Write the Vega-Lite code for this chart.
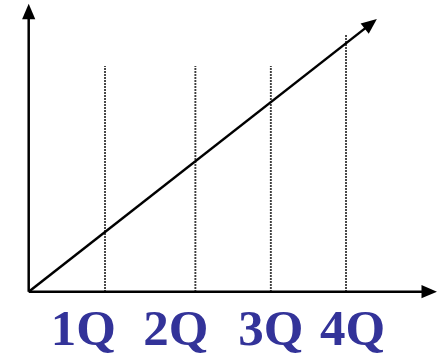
{
  "$schema": "https://vega.github.io/schema/vega-lite/v6.json",
  "autosize": {"type": "fit", "contains": "padding"},
  "width": 442,
  "height": 358,
  "padding": 0,
  "background": "white",
  "view": {"stroke": null},
  "datasets": {
    "quarters": [
      {"q": "1Q", "x": 1.004, "lx": 0.718, "base": 0, "top": 2.97, "ly": -0.701},
      {"q": "2Q", "x": 2.193, "lx": 1.936, "base": 0, "top": 2.97, "ly": -0.701},
      {"q": "3Q", "x": 3.186, "lx": 3.186, "base": 0, "top": 2.97, "ly": -0.701},
      {"q": "4Q", "x": 4.175, "lx": 4.261, "base": 0, "top": 3.38, "ly": -0.701}
    ],
    "axes": [
      {"name": "yaxis", "x": 0, "y": 0, "x2": 0, "y2": 3.687},
      {"name": "xaxis", "x": 0, "y": 0, "x2": 5.27, "y2": 0},
      {"name": "trend", "x": 0, "y": 0, "x2": 4.501, "y2": 3.524}
    ]
  },
  "layer": [
    {
      "data": {"name": "quarters"},
      "mark": {"type": "rule", "color": "black", "strokeWidth": 1.9, "strokeDash": [1.5, 1.5]},
      "encoding": {
        "x": {"field": "x", "type": "quantitative", "scale": {"domain": [-0.3776, 5.438], "nice": false, "zero": false}, "axis": null},
        "y": {"field": "base", "type": "quantitative", "scale": {"domain": [-0.8724, 3.838], "nice": false, "zero": false}, "axis": null},
        "y2": {"field": "top"}
      }
    },
    {
      "data": {"name": "axes"},
      "mark": {"type": "rule", "color": "black", "strokeWidth": 2.5},
      "encoding": {
        "x": {"field": "x", "type": "quantitative", "axis": null},
        "y": {"field": "y", "type": "quantitative", "axis": null},
        "x2": {"field": "x2"},
        "y2": {"field": "y2"}
      }
    },
    {
      "data": {"name": "axes"},
      "transform": [{"filter": "datum.name === 'yaxis'"}],
      "mark": {"type": "point", "shape": "M0,-1L-0.85,1L0.85,1Z", "filled": true, "color": "black", "opacity": 1, "size": 240, "angle": 0},
      "encoding": {
        "x": {"field": "x2", "type": "quantitative", "axis": null},
        "y": {"field": "y2", "type": "quantitative", "axis": null}
      }
    },
    {
      "data": {"name": "axes"},
      "transform": [{"filter": "datum.name === 'xaxis'"}],
      "mark": {"type": "point", "shape": "M0,-1L-0.85,1L0.85,1Z", "filled": true, "color": "black", "opacity": 1, "size": 240, "angle": 90},
      "encoding": {
        "x": {"field": "x2", "type": "quantitative", "axis": null},
        "y": {"field": "y2", "type": "quantitative", "axis": null}
      }
    },
    {
      "data": {"name": "axes"},
      "transform": [{"filter": "datum.name === 'trend'"}],
      "mark": {"type": "point", "shape": "M0,-1L-0.85,1L0.85,1Z", "filled": true, "color": "black", "opacity": 1, "size": 240, "angle": 52},
      "encoding": {
        "x": {"field": "x2", "type": "quantitative", "axis": null},
        "y": {"field": "y2", "type": "quantitative", "axis": null}
      }
    },
    {
      "data": {"name": "quarters"},
      "mark": {"type": "text", "font": "Liberation Serif", "fontWeight": "bold", "fontSize": 51, "color": "#333399", "align": "center", "baseline": "alphabetic"},
      "encoding": {
        "x": {"field": "lx", "type": "quantitative", "axis": null},
        "y": {"field": "ly", "type": "quantitative", "axis": null},
        "text": {"field": "q"}
      }
    }
  ]
}
